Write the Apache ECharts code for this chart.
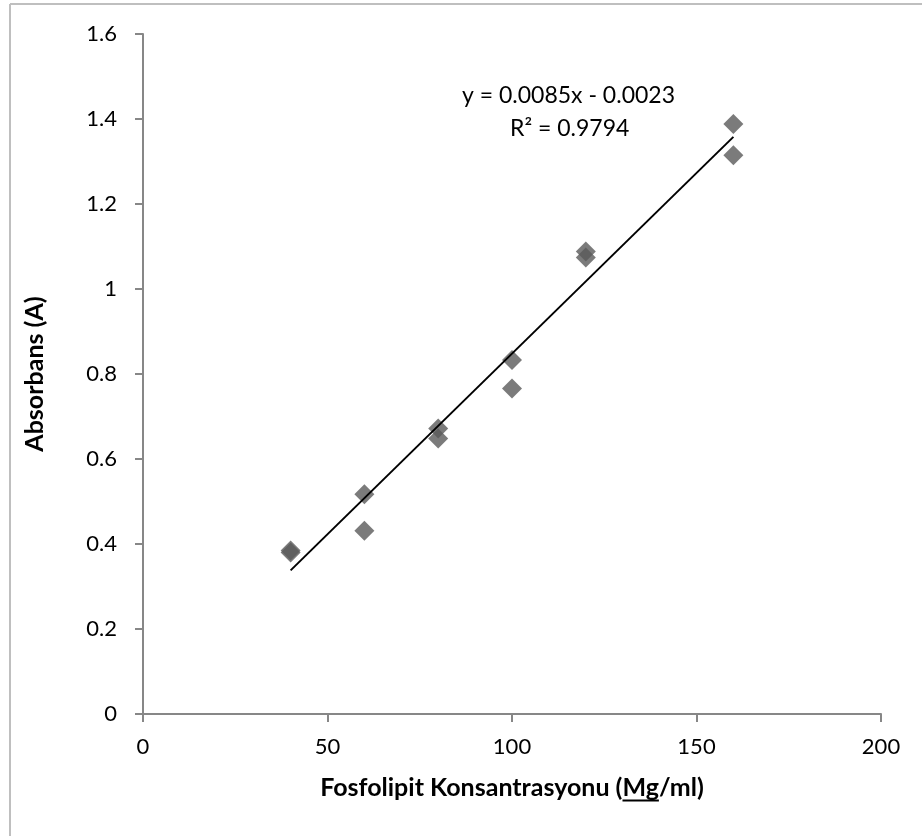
<!DOCTYPE html>
<html>
<head>
<meta charset="utf-8">
<script src="https://cdn.jsdelivr.net/npm/echarts@6/dist/echarts.min.js"></script>
<style>
html,body{margin:0;padding:0;background:#fff;}
#chart{width:922px;height:836px;}
</style>
</head>
<body>
<div id="chart"></div>
<script>
// Data
var concentration = [40, 40, 60, 60, 80, 80, 100, 100, 120, 120, 160, 160];
var absorbance = [0.380, 0.385, 0.517, 0.431, 0.672, 0.648, 0.833, 0.766, 1.088, 1.074, 1.388, 1.315];
var trendX = [40, 160];
var trendY = [0.338, 1.358];
var equationText = 'y = 0.0085x - 0.0023';
var r2Text = 'R² = 0.9794';
var xTitle = ['Fosfolipit Konsantrasyonu (', 'Mg', '/ml)'];
var yTitle = 'Absorbans (A)';

var FONT = 'Lato, "Open Sans", sans-serif';
var TICK_SIZE = 22, TITLE_SIZE = 25, EQ_SIZE = 23;
var gridLeft = 143, gridRight = 41, gridTop = 34, gridBottom = 122;
var W = 922, H = 836;

// measure title parts for the underline under "Mg"
var cv = document.createElement('canvas').getContext('2d');
cv.font = 'bold ' + TITLE_SIZE + 'px ' + FONT;
var wPre = cv.measureText(xTitle[0]).width;
var wMg = cv.measureText(xTitle[1]).width;
var wAll = cv.measureText(xTitle.join('')).width;
var axisCenter = gridLeft + (W - gridLeft - gridRight) / 2;
var xNameGap = 61;
var ulX = axisCenter - wAll / 2 + wPre;
var ulY = H - gridBottom + xNameGap + TITLE_SIZE * 0.98;

var chart = echarts.init(document.getElementById('chart'), null, {renderer: 'canvas'});

var points = concentration.map(function (x, i) { return [x, absorbance[i]]; });
var trend = trendX.map(function (x, i) { return [x, trendY[i]]; });

chart.setOption({
  backgroundColor: '#ffffff',
  animation: false,
  grid: {left: gridLeft, right: gridRight, top: gridTop, bottom: gridBottom, containLabel: false},
  xAxis: {
    type: 'value', min: 0, max: 200, interval: 50,
    axisLine: {show: true, onZero: false, lineStyle: {color: '#878787', width: 2}},
    axisTick: {show: true, inside: false, length: 8, lineStyle: {color: '#878787', width: 2}},
    axisLabel: {color: '#000', fontFamily: FONT, fontSize: TICK_SIZE, margin: 22},
    splitLine: {show: false},
    name: '{a|' + xTitle[0] + '}{a|' + xTitle[1] + '}{a|' + xTitle[2] + '}',
    nameLocation: 'middle', nameGap: xNameGap,
    nameTextStyle: {
      rich: {
        a: {fontFamily: FONT, fontSize: TITLE_SIZE, fontWeight: 'bold', color: '#000'}
      }
    }
  },
  yAxis: {
    type: 'value', min: 0, max: 1.6, interval: 0.2,
    axisLine: {show: true, onZero: false, lineStyle: {color: '#878787', width: 2}},
    axisTick: {show: true, inside: false, length: 8, lineStyle: {color: '#878787', width: 2}},
    axisLabel: {color: '#000', fontFamily: FONT, fontSize: TICK_SIZE, margin: 26,
      formatter: function (v) { return String(Math.round(v * 10) / 10); }},
    splitLine: {show: false},
    name: yTitle, nameLocation: 'middle', nameGap: 96,
    nameTextStyle: {fontFamily: FONT, fontSize: TITLE_SIZE, fontWeight: 'bold', color: '#000'}
  },
  series: [
    {
      type: 'line', data: trend, symbol: 'none', silent: true,
      lineStyle: {color: '#000', width: 2}, z: 3
    },
    {
      type: 'scatter', data: points, symbol: 'diamond', symbolSize: 20,
      itemStyle: {color: '#5a5a5a'}, z: 2
    }
  ],
  graphic: [
    {type: 'line', shape: {x1: 10, y1: 4, x2: 10, y2: H}, style: {stroke: '#bfbfbf', lineWidth: 2}},
    {type: 'line', shape: {x1: 10, y1: 4, x2: W, y2: 4}, style: {stroke: '#bfbfbf', lineWidth: 2}},
    {type: 'text', left: 462, top: 84, style: {text: equationText, font: EQ_SIZE + 'px ' + FONT, fill: '#000'}},
    {type: 'text', left: 510, top: 117, style: {text: r2Text, font: EQ_SIZE + 'px ' + FONT, fill: '#000'}},
    {type: 'rect', shape: {x: ulX, y: ulY, width: wMg, height: 2}, style: {fill: '#000'}}
  ]
});
</script>
</body>
</html>
